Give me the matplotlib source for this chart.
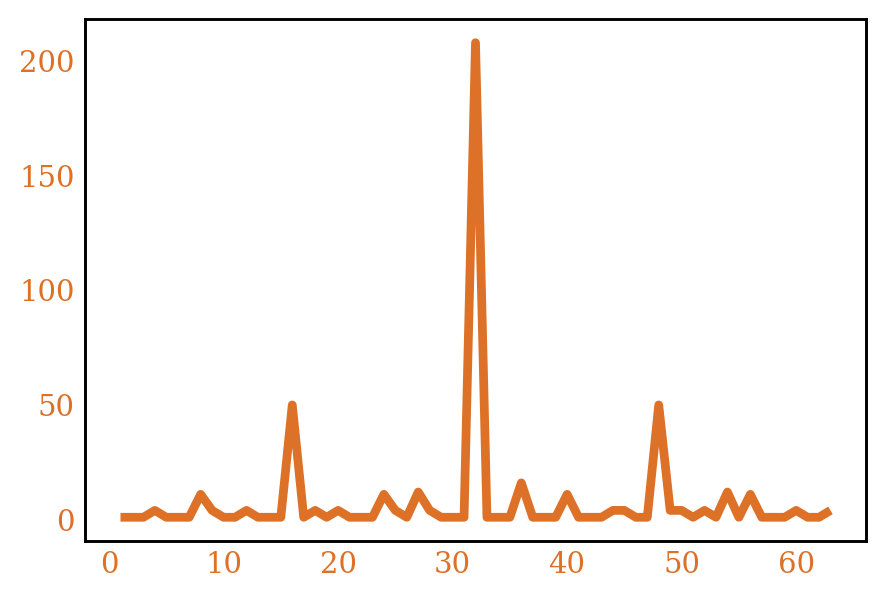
import matplotlib
matplotlib.use("Agg")
import matplotlib.pyplot as plt

x = list(range(1, 64))
y = [1, 1, 1, 4, 1, 1, 1, 11, 4, 1, 1, 4, 1, 1, 1, 50,
     1, 4, 1, 4, 1, 1, 1, 11, 4, 1, 12, 4, 1, 1, 1, 208,
     1, 1, 1, 16, 1, 1, 1, 11, 1, 1, 1, 4, 4, 1, 1, 50,
     4, 4, 1, 4, 1, 12, 1, 11, 1, 1, 1, 4, 1, 1, 4]

color = "#dd7127"
plt.rcParams['font.family'] = ['DejaVu Serif']

fig = plt.figure(figsize=(886/150, 598/150), dpi=150)
ax = fig.add_axes([85/886, 57/598, 781/886, 522/598])
ax.plot(x, y, color=color, lw=4.2, solid_capstyle='butt', solid_joinstyle='round')
ax.set_xticks([0, 10, 20, 30, 40, 50, 60])
ax.set_yticks([0, 50, 100, 150, 200])
ax.tick_params(length=0, labelsize=14, labelcolor=color)
ax.tick_params(axis='y', pad=5)
ax.tick_params(axis='x', pad=5)
for s in ax.spines.values():
    s.set_color('black')
    s.set_linewidth(1.4)
fig.savefig("out.png", dpi=150)
